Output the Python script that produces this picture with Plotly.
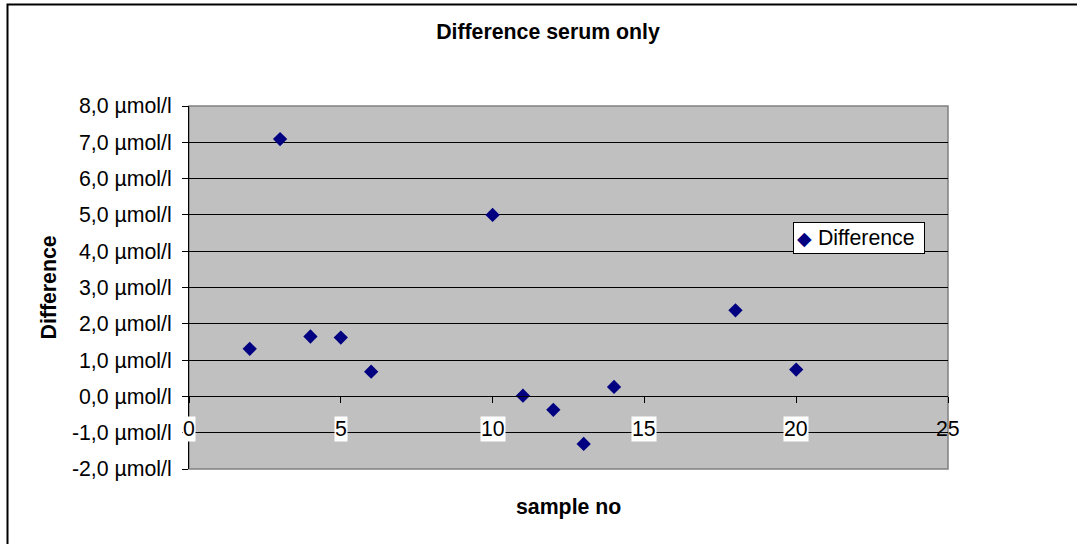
import plotly.graph_objects as go

# ---- data ----
sample_no = [2, 3, 4, 5, 6, 10, 11, 12, 13, 14, 18, 20]
difference = [1.31, 7.09, 1.65, 1.62, 0.68, 5.0, 0.02, -0.37, -1.31, 0.26, 2.37, 0.74]

y_tick_vals = [-2, -1, 0, 1, 2, 3, 4, 5, 6, 7, 8]
y_tick_text = ["-2,0 µmol/l", "-1,0 µmol/l", "0,0 µmol/l", "1,0 µmol/l", "2,0 µmol/l",
               "3,0 µmol/l", "4,0 µmol/l", "5,0 µmol/l", "6,0 µmol/l", "7,0 µmol/l", "8,0 µmol/l"]
x_tick_vals = [0, 5, 10, 15, 20, 25]
x_tick_text = ["0", "5", "10", "15", "20", "25"]
series_name = "Difference"

FONT = "Arial, Liberation Sans, sans-serif"
FS = 21.3

fig = go.Figure()
fig.add_trace(go.Scatter(
    x=sample_no, y=difference, mode="markers", name=series_name,
    marker=dict(symbol="diamond", size=11, color="#000080",
                line=dict(width=0)),
    showlegend=False,
))

W, H = 1077, 544
L, R, T, B = 189, 129, 106, 75
pw, ph = W - L - R, H - T - B

def px_x(px):
    return (px - L) / pw

def px_y(py):
    return (H - B - py) / ph

annotations = []
for v, t in zip(x_tick_vals, x_tick_text):
    annotations.append(dict(
        x=v, y=0, xref="x", yref="y", text=t, showarrow=False,
        yanchor="top", xanchor="center", yshift=-20,
        bgcolor="white" if v != 25 else "rgba(0,0,0,0)", borderpad=0,
        font=dict(family=FONT, size=FS, color="black"),
    ))
annotations.append(dict(
    x=0.5, y=px_y(507), xref="paper", yref="paper", text="<b>sample no</b>",
    showarrow=False, xanchor="center", yanchor="middle",
    font=dict(family=FONT, size=FS, color="black"),
))
annotations.append(dict(
    x=px_x(48), y=0.5, xref="paper", yref="paper", text="<b>Difference</b>",
    showarrow=False, xanchor="center", yanchor="middle", textangle=-90,
    font=dict(family=FONT, size=FS, color="black"),
))
# legend box
annotations.append(dict(
    x=px_x(793), y=px_y(222), xref="paper", yref="paper",
    text="<span style='color:#000080;font-size:19px'>◆</span> " + series_name,
    showarrow=False, xanchor="left", yanchor="top",
    width=124, height=24, align="left", valign="middle",
    bgcolor="white", bordercolor="black", borderwidth=1, borderpad=3,
    font=dict(family=FONT, size=FS, color="black"),
))

shapes = [
    # outer chart frame
    dict(type="rect", xref="paper", yref="paper",
         x0=px_x(7.5), y0=-2, x1=3, y1=px_y(4.5),
         line=dict(color="black", width=2), fillcolor="rgba(0,0,0,0)", layer="below"),
    # plot area border
    dict(type="rect", xref="paper", yref="paper", x0=0, y0=0, x1=1, y1=1,
         line=dict(color="#808080", width=1.5), fillcolor="rgba(0,0,0,0)", layer="below"),
]

fig.update_layout(
    width=W, height=H,
    margin=dict(l=L, r=R, t=T, b=B),
    paper_bgcolor="white", plot_bgcolor="#C0C0C0",
    font=dict(family=FONT, size=FS, color="black"),
    title=dict(text="<b>Difference serum only</b>", x=548 / W, xanchor="center",
               y=1 - 32 / H, yanchor="middle", xref="container", yref="container",
               font=dict(family=FONT, size=FS, color="black")),
    showlegend=False,
    xaxis=dict(range=[0, 25], tickvals=x_tick_vals, showticklabels=False,
               showgrid=False, zeroline=False, showline=True, linecolor="black",
               linewidth=1, ticks="outside", ticklen=6, tickcolor="black",
               anchor="free", position=0.2),
    yaxis=dict(range=[-2, 8], tickvals=y_tick_vals, ticktext=y_tick_text,
               showgrid=True, gridcolor="black", gridwidth=1, zeroline=False,
               showline=True, linecolor="black", linewidth=1,
               ticks="outside", ticklen=6, tickcolor="black",
               ticklabelstandoff=6,
               tickfont=dict(family=FONT, size=FS, color="black")),
    annotations=annotations,
    shapes=shapes,
)

fig.write_html("out.html")
